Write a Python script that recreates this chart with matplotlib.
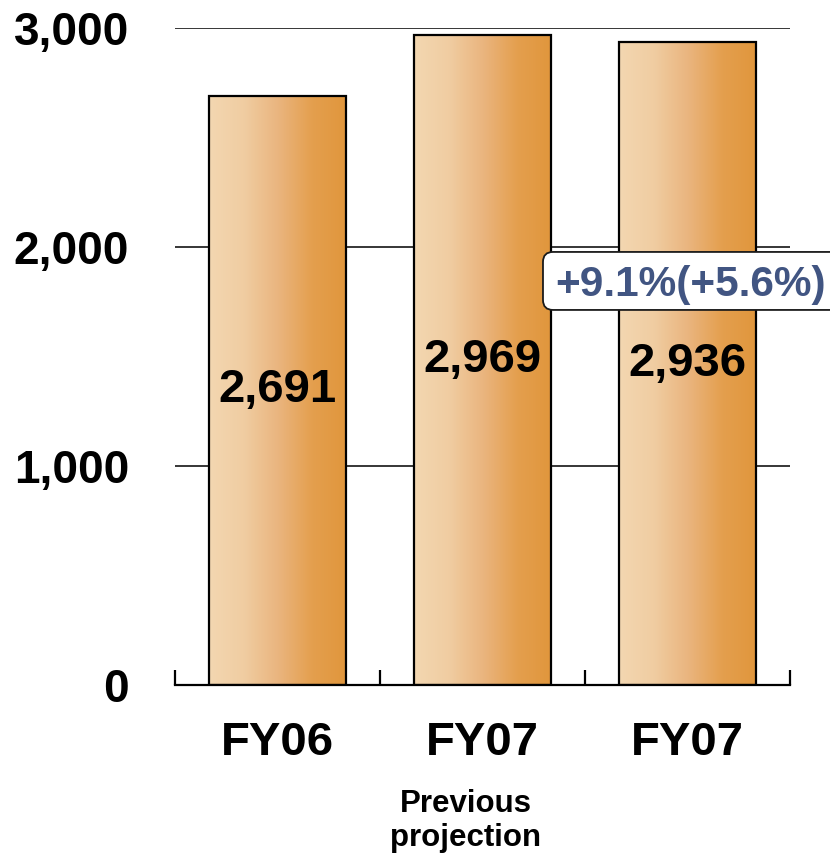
import numpy as np
import matplotlib
matplotlib.use("Agg")
import matplotlib.pyplot as plt
from matplotlib.colors import LinearSegmentedColormap
from matplotlib.patches import FancyBboxPatch
from matplotlib.transforms import Affine2D

plt.rcParams['font.family'] = ['Liberation Sans', 'DejaVu Sans']
plt.rcParams['font.weight'] = 'bold'

categories = ["FY06", "FY07", "FY07"]
values = [2691, 2969, 2936]
value_labels = ["2,691", "2,969", "2,936"]
sublabels = ["", "Previous\nprojection", ""]
yticks = [0, 1000, 2000, 3000]
ytick_labels = ["0", "1,000", "2,000", "3,000"]
growth_text = "+9.1%(+5.6%)"

W, H = 830, 856
fig = plt.figure(figsize=(W / 100, H / 100), dpi=100)
ax = fig.add_axes([175 / W, 171 / H, 615 / W, 657 / H])

x = np.arange(len(categories))

# horizontal gridlines behind the bars
for v in yticks[1:]:
    ax.axhline(v, color="black", lw=1.1, zorder=1)

cmap = LinearSegmentedColormap.from_list(
    "peach", ["#F3D7B1", "#F0CDA2", "#EAB57F", "#E49F4E", "#E0963C"])
grad = np.linspace(0, 1, 256).reshape(1, -1)

bars = ax.bar(x, values, width=0.67, facecolor="none", edgecolor="black",
              linewidth=1.6, zorder=3)
for b in bars:
    bx, by, bw, bh = b.get_x(), b.get_y(), b.get_width(), b.get_height()
    im = ax.imshow(grad, cmap=cmap, aspect="auto",
                   extent=(bx, bx + bw, by, by + bh), zorder=2,
                   interpolation="bilinear")
    im.set_clip_path(b)

ax.set_xlim(-0.5, len(categories) - 0.5)
ax.set_ylim(0, 3000)

for xi, v, lab in zip(x, values, value_labels):
    ax.text(xi, v / 2, lab, ha="center", va="center", fontsize=34,
            fontweight="bold", color="black", zorder=4)

for s in ["top", "right", "left"]:
    ax.spines[s].set_visible(False)
ax.spines["bottom"].set_linewidth(1.6)
ax.spines["bottom"].set_zorder(5)

ax.set_xticks(x)
ax.set_xticklabels(categories, fontsize=34, fontweight="bold")
ax.tick_params(axis="x", which="major", length=0, pad=26)
ax.set_xticks(np.arange(-0.5, len(categories)), minor=True)
ax.tick_params(axis="x", which="minor", direction="in", length=11, width=1.6)

ax.set_yticks(yticks)
ax.set_yticklabels(ytick_labels, fontsize=33, fontweight="bold")
ax.tick_params(axis="y", length=0, pad=33)

for xi, s in zip(x, sublabels):
    if s:
        ax.annotate(s, xy=(xi, 0), xycoords="data", xytext=(-12, -98),
                    textcoords="offset points", ha="center", va="center",
                    fontsize=22.5, fontweight="bold", linespacing=1.2)

# growth callout: rounded white box with the text centred on it
cx_data, cy_data = 2.017, 1845
cx, cy = ax.transData.transform((cx_data, cy_data))
box = FancyBboxPatch((-148, -29), 302, 58,
                     boxstyle="round,pad=0,rounding_size=10",
                     facecolor="white", edgecolor="#1a1a1a", linewidth=1.3,
                     transform=Affine2D().translate(cx, cy), zorder=6)
box.set_clip_on(False)
ax.add_artist(box)
ax.text(cx_data, cy_data, growth_text, ha="center", va="center_baseline",
        fontsize=30.5, fontweight="bold", color="#415582", zorder=7)

fig.savefig("out.png", dpi=100)
